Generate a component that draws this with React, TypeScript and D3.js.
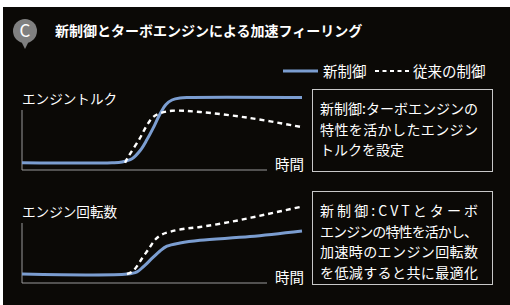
import React from 'react';
import * as d3 from 'd3';

// time axis (arbitrary units) and response values (0-100 scale)
const torqueNewT = [0, 9, 10, 11, 11.8, 12.5, 13.1, 13.8, 14.4, 15, 15.8, 16.8, 28];
const torqueNewV = [9, 9, 10, 14, 24, 38, 52, 70, 82, 87.5, 90, 90.6, 90.6];
const torqueOldT = [10.3, 10.6, 11.8, 12.5, 13.1, 13.8, 15, 17.8, 22.8, 27.8];
const torqueOldV = [9, 16, 40, 56, 66, 71, 74, 72.5, 65, 54];

const rpmNewT = [0, 10.5, 11.5, 12.1, 13.1, 13.8, 14.5, 15.8, 17.8, 22.8, 28];
const rpmNewV = [11.25, 11.25, 14, 20, 32, 40, 46, 50, 53.5, 58, 65];
const rpmOldT = [10.5, 11.1, 12.1, 12.8, 13.3, 13.9, 14.8, 16.1, 17.8, 21.1, 24.5, 27.8];
const rpmOldV = [11.25, 15, 32.5, 45, 54, 60, 64, 67.5, 70, 77, 86, 95];

const title = '新制御とターボエンジンによる加速フィーリング';
const legendNew = '新制御';
const legendOld = '従来の制御';
const torqueLabel = 'エンジントルク';
const rpmLabel = 'エンジン回転数';
const timeLabel = '時間';
const torqueNote = ['新制御:ターボエンジンの', '特性を活かしたエンジン', 'トルクを設定'];
const rpmNote = ['新制御:CVTとターボ', 'エンジンの特性を活かし、', '加速時のエンジン回転数', 'を低減すると共に最適化'];

const W = 510;
const H = 305;
const FONT = '"Noto Sans CJK JP", "Noto Sans", sans-serif';
const BLUE = '#7b9dd0';
const BG = '#0b0906';

const x = d3.scaleLinear().domain([0, 28]).range([22, 302]);

const Panel = ({ top, label, newT, newV, oldT, oldV, note, noteTop, noteH, fullLines }) => {
  const axisY = top + 60;
  const y = d3.scaleLinear().domain([0, 100]).range([axisY, axisY - 80]);
  const mk = (ts: number[], vs: number[]) =>
    d3.line<number>().x((t) => x(t)).y((_, i) => y(vs[i])).curve(d3.curveCatmullRom.alpha(0.5))(ts) || '';
  return (
    <g>
      <text x={22} y={top - 6} fill="#fff" fontSize={13.6} fontFamily={FONT}>{label}</text>
      <line x1={22} x2={22} y1={top} y2={axisY} stroke="#9a9a9a" strokeWidth={1} />
      <line x1={22} x2={267} y1={axisY} y2={axisY} stroke="#9a9a9a" strokeWidth={1} />
      <text x={275} y={axisY} fill="#fff" fontSize={14.5} fontFamily={FONT}>{timeLabel}</text>
      <path d={mk(newT, newV)} fill="none" stroke={BLUE} strokeWidth={3} />
      <path d={mk(oldT, oldV)} fill="none" stroke="#fff" strokeWidth={2.4} strokeDasharray="5,4" />
      <rect x={312.5} y={noteTop + 0.5} width={180} height={noteH} fill="none" stroke="#c8c8c8" strokeWidth={1} />
      {note.map((s, i) => (
        <text key={i} x={320} y={noteTop + 25 + i * 20.5} fill="#fff" fontSize={14} fontFamily={FONT}
          {...(fullLines[i] ? { textLength: 158, lengthAdjust: 'spacing' } : {})}>{s}</text>
      ))}
    </g>
  );
};

export default function App() {
  return (
    <svg width={W} height={H} style={{ position: 'absolute', left: 0, top: 0, display: 'block' }}>
      <rect x={0} y={0} width={W} height={H} fill="#fff" />
      <rect x={3} y={7} width={W - 3} height={H - 7} fill={BG} />
      <circle cx={25} cy={31} r={12} fill="#808080" />
      <path d="M21,41 L25,49 L29,41 Z" fill="#808080" />
      <text x={25} y={37} textAnchor="middle" fill="#fff" fontSize={17} fontFamily={FONT}>C</text>
      <text x={55} y={36} fill="#fff" fontSize={14} fontWeight={700} fontFamily={FONT}>{title}</text>

      <line x1={283} x2={318} y1={71} y2={71} stroke={BLUE} strokeWidth={3} />
      <text x={323} y={77} fill="#fff" fontSize={14.5} fontFamily={FONT}>{legendNew}</text>
      <line x1={375} x2={410} y1={71} y2={71} stroke="#fff" strokeWidth={2} strokeDasharray="4,3.5" />
      <text x={413} y={77} fill="#fff" fontSize={14.5} fontFamily={FONT}>{legendOld}</text>

      <Panel top={110} label={torqueLabel} newT={torqueNewT} newV={torqueNewV} oldT={torqueOldT} oldV={torqueOldV}
        note={torqueNote} noteTop={89} noteH={82} fullLines={[true, true, false]} />
      <Panel top={223} label={rpmLabel} newT={rpmNewT} newV={rpmNewV} oldT={rpmOldT} oldV={rpmOldV}
        note={rpmNote} noteTop={191} noteH={93} fullLines={[true, true, true, true]} />
    </svg>
  );
}
